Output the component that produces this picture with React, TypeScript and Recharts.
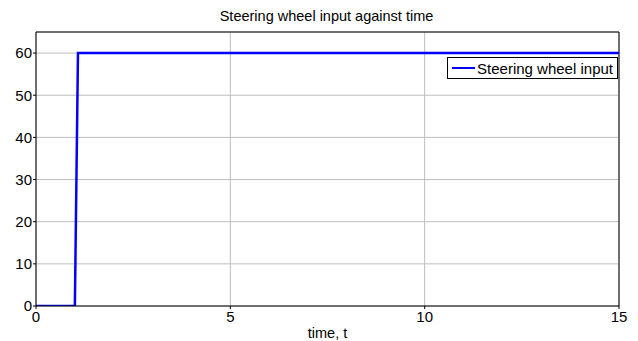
import { LineChart, Line, XAxis, YAxis, CartesianGrid, ReferenceLine, Label } from 'recharts';

// step input: held at 0 until t = 1, then ramps quickly to 60
const timeValues = [0, 1.0, 1.08, 15];
const steeringValues = [0, 0, 60, 60];
const xTicks = [0, 5, 10, 15];
const yTicks = [0, 10, 20, 30, 40, 50, 60];

const data = timeValues.map((t, i) => ({ t, steer: steeringValues[i] }));

const font = '"Liberation Sans", Arial, sans-serif';

function LegendBox() {
    return (
        <div style={{
            position: 'absolute', top: 57, right: 20, boxSizing: 'border-box',
            border: '1px solid #000', background: '#fff', display: 'flex', alignItems: 'center',
            height: 22, padding: '0 4px 0 4px', fontFamily: font, fontSize: 15, color: '#000'
        }}>
            <span style={{ display: 'inline-block', width: 23, height: 0, borderTop: '2.5px solid #0000ff', marginRight: 2 }} />
            Steering wheel input
        </div>
    );
}

export default function App() {
    return (
        <div style={{ position: 'absolute', left: 0, top: 0, width: 638, height: 341, background: '#fff' }}>
            <div style={{
                position: 'absolute', left: 0, width: 653, top: 8, textAlign: 'center',
                fontFamily: font, fontSize: 14.5, color: '#000'
            }}>
                Steering wheel input against time
            </div>
            <LineChart width={638} height={341} data={data}
                margin={{ top: 32, right: 19, bottom: 0, left: 6 }}>
                <CartesianGrid stroke="#bdbdbd" strokeWidth={1} />
                <XAxis dataKey="t" type="number" domain={[0, 15]} ticks={xTicks} allowDataOverflow
                    height={35} stroke="#000" tickSize={3} tickMargin={2}
                    tick={{ fill: '#000', fontSize: 15, fontFamily: font }}>
                    <Label value="time, t" position="insideBottom" offset={3}
                        style={{ fill: '#000', fontSize: 14.5, fontFamily: font }} />
                </XAxis>
                <YAxis type="number" domain={[0, 65]} ticks={yTicks} allowDataOverflow
                    width={30} stroke="#000" tickSize={3} tickMargin={1}
                    tick={{ fill: '#000', fontSize: 15, fontFamily: font }} />
                <ReferenceLine y={65} stroke="#000" strokeWidth={1} />
                <ReferenceLine x={15} stroke="#000" strokeWidth={1} />
                <Line dataKey="steer" type="linear" stroke="#0000ff" strokeWidth={2.5}
                    dot={false} isAnimationActive={false} />
            </LineChart>
            <LegendBox />
        </div>
    );
}
